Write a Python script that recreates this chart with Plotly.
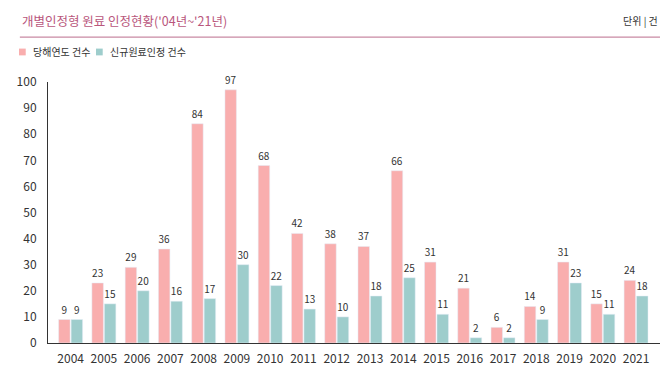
import plotly.graph_objects as go

years = [str(y) for y in range(2004, 2022)]
annual = [9, 23, 29, 36, 84, 97, 68, 42, 38, 37, 66, 31, 21, 6, 14, 31, 15, 24]
new_recognized = [9, 15, 20, 16, 17, 30, 22, 13, 10, 18, 25, 11, 2, 2, 9, 23, 11, 18]
series_names = ["당해연도 건수", "신규원료인정 건수"]
title_text = "개별인정형 원료 인정현황('04년~'21년)"
unit_text = "단위 | 건"
yticks = [0, 10, 20, 30, 40, 50, 60, 70, 80, 90, 100]

PINK = "#f9aeae"
TEAL = "#9ecdcc"
FONT = "Noto Sans CJK KR"
TXT = "#333333"

fig = go.Figure()
fig.add_trace(go.Bar(x=years, y=annual, name=series_names[0], marker_color=PINK,
                     text=annual, textposition="outside", cliponaxis=False,
                     textfont=dict(size=10, color=TXT)))
fig.add_trace(go.Bar(x=years, y=new_recognized, name=series_names[1], marker_color=TEAL,
                     text=new_recognized, textposition="outside", cliponaxis=False,
                     textfont=dict(size=10, color=TXT)))

# page body has an 8px default margin, so the figure is sized to fit inside it
fig.update_layout(
    width=664, height=358,
    margin=dict(l=40, r=12, t=74, b=23, autoexpand=False),
    paper_bgcolor="white", plot_bgcolor="white",
    font=dict(family=FONT, color=TXT),
    barmode="group", bargap=0.25, bargroupgap=0.08,
    showlegend=False,
    uniformtext=dict(minsize=10, mode="show"),
)
fig.update_xaxes(range=[-0.68, 17.72], showline=True, linecolor=TXT, linewidth=1,
                 ticks="", tickfont=dict(size=12, color=TXT), showgrid=False,
                 ticklabelstandoff=5)
fig.update_yaxes(range=[0, 100], tickvals=yticks, showline=True, linecolor=TXT,
                 linewidth=1, showgrid=False, zeroline=False, ticks="",
                 tickfont=dict(size=12, color=TXT), ticklabelstandoff=8)

# title, unit, separator
fig.add_annotation(text=title_text, xref="paper", yref="paper", x=-0.046, y=1.2375,
                   xanchor="left", yanchor="middle", showarrow=False,
                   font=dict(size=12.5, color="#b9567c", family=FONT))
fig.add_annotation(text=unit_text, xref="paper", yref="paper", x=1.0, y=1.2375,
                   xanchor="right", yanchor="middle", showarrow=False,
                   font=dict(size=10, color=TXT, family=FONT))
fig.add_shape(type="line", xref="paper", yref="paper", x0=-0.046, x1=1.0, y0=1.172, y1=1.172,
              line=dict(color="#c98aa3", width=1.2))

# legend drawn manually
legend_items = [(series_names[0], PINK, -0.0474), (series_names[1], TEAL, 0.0784)]
for name, color, x0 in legend_items:
    fig.add_shape(type="rect", xref="paper", yref="paper", x0=x0, x1=x0 + 0.011,
                  y0=1.102, y1=1.128, line=dict(width=0), fillcolor=color)
    fig.add_annotation(text=name, xref="paper", yref="paper", x=x0 + 0.019, y=1.115,
                       xanchor="left", yanchor="middle", showarrow=False,
                       font=dict(size=10, color=TXT, family=FONT))

fig.write_html("out.html")
